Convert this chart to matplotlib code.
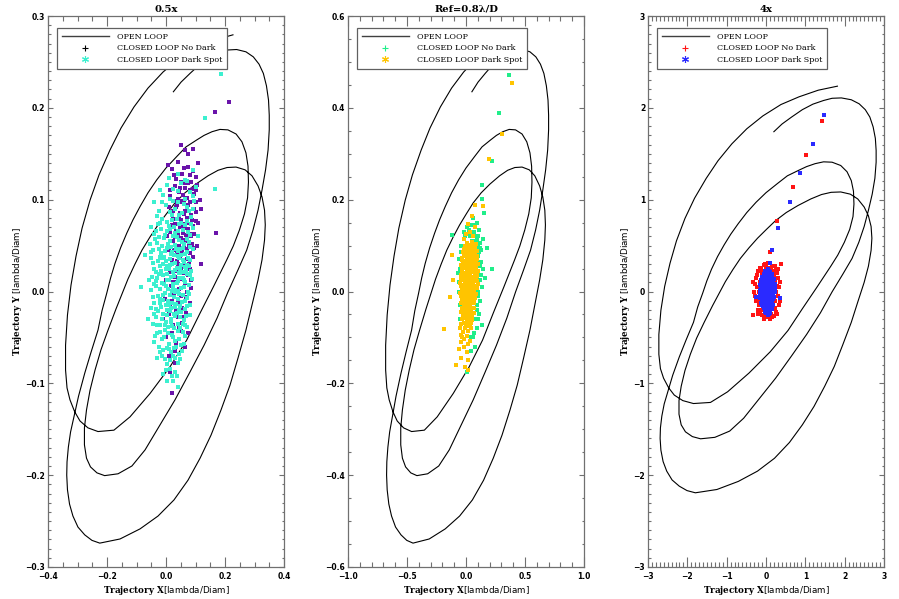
import numpy as np
import matplotlib
matplotlib.use('Agg')
import matplotlib.pyplot as plt
from matplotlib.lines import Line2D
from matplotlib.ticker import MultipleLocator, FuncFormatter

plt.rcParams['mathtext.fontset'] = 'custom'
plt.rcParams['mathtext.bf'] = 'DejaVu Serif:bold'
plt.rcParams['mathtext.rm'] = 'DejaVu Sans'

# open loop trajectory in Ref units [lambda/D], scaled per panel
ol_x = [0.454, 0.332, 0.210, 0.095, -0.020, -0.122, -0.217, -0.305, -0.380, -0.454, -0.515, -0.569,
        -0.610, -0.644, -0.668, -0.681, -0.681, -0.671, -0.651, -0.619, -0.583, -0.529, -0.461,
        -0.353, -0.244, -0.108, 0.027, 0.140, 0.231, 0.321, 0.412, 0.456, 0.498, 0.532, 0.553,
        0.559, 0.556, 0.542, 0.515, 0.475, 0.420, 0.366, 0.312, 0.258, 0.208,
        0.136, 0.073, 0.000, -0.063, -0.122, -0.176, -0.224, -0.266, -0.308, -0.346, -0.376,
        -0.402, -0.434, -0.461, -0.508, -0.551, -0.593, -0.624, -0.647, -0.662, -0.671, -0.673,
        -0.668, -0.654, -0.631, -0.597, -0.551, -0.502, -0.449,
        -0.312, -0.176, -0.054, 0.054, 0.149, 0.231, 0.305, 0.373, 0.434, 0.488, 0.542, 0.583,
        0.624, 0.651, 0.668, 0.673, 0.668, 0.651, 0.624, 0.583, 0.536, 0.475, 0.414, 0.353, 0.285,
        0.203, 0.129, 0.061, 0.005, -0.054, -0.108, -0.163, -0.210, -0.258, -0.298, -0.339,
        -0.393, -0.441, -0.481, -0.515, -0.539, -0.553, -0.553, -0.539, -0.512, -0.468, -0.416,
        -0.325, -0.231, -0.142, -0.041, 0.061, 0.163, 0.258, 0.346, 0.420, 0.488, 0.547, 0.590,
        0.624, 0.651, 0.675, 0.692, 0.700, 0.700, 0.695, 0.681, 0.660, 0.631, 0.592, 0.542,
        0.479, 0.420, 0.366, 0.298, 0.231, 0.163, 0.102, 0.050]
ol_y = [0.559, 0.548, 0.530, 0.509, 0.478, 0.443, 0.402, 0.356, 0.308, 0.254, 0.199, 0.138,
        0.077, 0.014, -0.051, -0.117, -0.171, -0.210, -0.236, -0.262, -0.282, -0.297, -0.305,
        -0.302, -0.273, -0.222, -0.164, -0.106, -0.047, 0.010, 0.069, 0.099, 0.134, 0.169, 0.204,
        0.238, 0.273, 0.302, 0.326, 0.343, 0.352, 0.353, 0.348, 0.340, 0.330,
        0.315, 0.294, 0.269, 0.243, 0.215, 0.185, 0.156, 0.127, 0.095, 0.061, 0.029,
        -0.004, -0.042, -0.084, -0.132, -0.178, -0.228, -0.273, -0.306, -0.339, -0.371, -0.400,
        -0.432, -0.463, -0.489, -0.513, -0.530, -0.542, -0.548,
        -0.539, -0.517, -0.489, -0.454, -0.411, -0.363, -0.313, -0.258, -0.204, -0.145, -0.084,
        -0.029, 0.025, 0.069, 0.112, 0.145, 0.177, 0.206, 0.230, 0.252, 0.265, 0.271, 0.270, 0.264,
        0.252, 0.234, 0.215, 0.193, 0.170, 0.145, 0.119, 0.090, 0.060, 0.027, -0.005, -0.038,
        -0.084, -0.127, -0.171, -0.215, -0.258, -0.297, -0.334, -0.363, -0.382, -0.395, -0.401,
        -0.397, -0.380, -0.345, -0.291, -0.236, -0.175, -0.117, -0.058, -0.001, 0.047, 0.090, 0.134,
        0.177, 0.221, 0.265, 0.308, 0.352, 0.384, 0.417, 0.448, 0.475, 0.495, 0.511, 0.522,
        0.527, 0.526, 0.520, 0.510, 0.495, 0.475, 0.456, 0.435]
scales = [0.5, 1.0, 4.0]

# closed loop residuals, panel 1 (0.5x)
p1_nodark = [(0.064, 0.154), (0.04, 0.141), (0.075, 0.136), (0.055, 0.128), (0.09, 0.131), (0.02, 0.133),
             (0.1, 0.125), (0.035, 0.122), (0.007, 0.138),
             (0.03, 0.115), (0.045, 0.108), (0.06, 0.118), (0.07, 0.102), (0.08, 0.111), (0.095, 0.106),
             (0.05, 0.119), (0.015, 0.104), (0.065, 0.113), (0.105, 0.116), (0.04, 0.101), (0.085, 0.119),
             (0.02, 0.085), (0.035, 0.092), (0.045, 0.081), (0.055, 0.097), (0.065, 0.088), (0.075, 0.094),
             (0.085, 0.083), (0.095, 0.09), (0.05, 0.099), (0.03, 0.099), (0.07, 0.08), (0.1, 0.098),
             (0.06, 0.084), (0.01, 0.092),
             (0.015, 0.065), (0.03, 0.074), (0.042, 0.062), (0.052, 0.078), (0.062, 0.069), (0.072, 0.075),
             (0.082, 0.063), (0.092, 0.071), (0.048, 0.07), (0.035, 0.066), (0.068, 0.061), (0.1, 0.077),
             (0.025, 0.079), (0.058, 0.064),
             (0.01, 0.045), (0.025, 0.055), (0.038, 0.043), (0.05, 0.058), (0.06, 0.049), (0.07, 0.055),
             (0.08, 0.042), (0.088, 0.052), (0.045, 0.05), (0.032, 0.059), (0.065, 0.041), (0.095, 0.047),
             (0.005, 0.025), (0.02, 0.034), (0.035, 0.022), (0.048, 0.037), (0.058, 0.028), (0.07, 0.035),
             (0.08, 0.024), (0.042, 0.03), (0.09, 0.038), (0.015, 0.021),
             (0.0, 0.012), (0.018, 0.006), (0.03, 0.016), (0.045, 0.003), (0.055, 0.014), (0.065, 0.009),
             (0.075, 0.018), (0.038, 0.01), (0.085, 0.004),
             (-0.005, -0.008), (0.012, -0.015), (0.028, -0.004), (0.042, -0.012), (0.055, -0.018),
             (0.068, -0.006), (0.02, -0.01),
             (-0.01, -0.03), (0.01, -0.025), (0.025, -0.036), (0.04, -0.028), (0.055, -0.034), (0.068, -0.023),
             (0.0, -0.05), (0.02, -0.045), (0.035, -0.056), (0.05, -0.043),
             (0.01, -0.07), (0.03, -0.078), (0.015, -0.088), (0.02, -0.11),
             (0.212, 0.206), (0.166, 0.195), (0.169, 0.064), (0.12, 0.09),
             (0.028, 0.127), (0.06, 0.135), (0.083, 0.127), (0.047, 0.113), (0.073, 0.118), (0.09, 0.112),
             (0.058, 0.105), (0.038, 0.094), (0.062, 0.096), (0.08, 0.098), (0.1, 0.087), (0.025, 0.088),
             (0.048, 0.086), (0.07, 0.089), (0.088, 0.078), (0.056, 0.074), (0.04, 0.079), (0.075, 0.068),
             (0.095, 0.063), (0.02, 0.072), (0.063, 0.056), (0.078, 0.05), (0.043, 0.056), (0.055, 0.043),
             (0.085, 0.06), (0.028, 0.045), (0.072, 0.046), (0.062, 0.033), (0.05, 0.025), (0.077, 0.03),
             (0.036, 0.033), (0.085, 0.013), (0.06, 0.02), (0.025, 0.01), (0.07, 0.0), (0.05, -0.005),
             (0.08, -0.012), (0.035, -0.02), (0.06, -0.028), (0.045, -0.04), (0.075, -0.045), (0.065, -0.06),
             (0.03, -0.065), (0.1, 0.11), (0.115, 0.1), (0.11, 0.075), (0.105, 0.05), (0.12, 0.03),
             (0.015, 0.11), (0.005, 0.06), (0.11, 0.14), (0.075, 0.15), (0.05, 0.16), (0.09, 0.155)]
p1_dark = [(0.04, 0.128), (0.065, 0.121), (0.01, 0.124), (0.09, 0.132),
           (-0.01, 0.105), (0.025, 0.112), (0.05, 0.118), (0.08, 0.108), (0.005, 0.116), (0.1, 0.114), (0.065, 0.101),
           (-0.025, 0.088), (0.0, 0.094), (0.02, 0.083), (0.04, 0.097), (0.055, 0.086), (0.07, 0.092),
           (0.085, 0.081), (-0.04, 0.097), (0.03, 0.09), (0.095, 0.099),
           (-0.035, 0.066), (-0.02, 0.075), (-0.005, 0.062), (0.01, 0.071), (0.02, 0.078), (0.032, 0.064),
           (0.045, 0.073), (0.058, 0.067), (0.07, 0.077), (0.08, 0.061), (-0.05, 0.07), (0.038, 0.079),
           (0.092, 0.069), (-0.012, 0.079),
           (-0.045, 0.045), (-0.03, 0.053), (-0.018, 0.042), (-0.008, 0.058), (0.002, 0.047), (0.012, 0.055),
           (0.022, 0.043), (0.03, 0.051), (0.038, 0.059), (0.046, 0.046), (0.054, 0.054), (0.064, 0.041),
           (0.072, 0.057), (0.082, 0.049), (-0.025, 0.059), (0.025, 0.06), (0.05, 0.04), (-0.055, 0.052),
           (-0.04, 0.025), (-0.028, 0.033), (-0.016, 0.022), (-0.006, 0.038), (0.005, 0.028), (0.015, 0.035),
           (0.024, 0.021), (0.032, 0.031), (0.04, 0.039), (0.048, 0.024), (0.056, 0.034), (0.065, 0.027),
           (0.075, 0.037), (0.085, 0.022), (-0.05, 0.036), (0.01, 0.024), (0.036, 0.026), (0.06, 0.021),
           (-0.01, 0.03), (0.028, 0.04),
           (-0.042, 0.008), (-0.03, 0.015), (-0.02, 0.003), (-0.01, 0.018), (0.0, 0.006), (0.01, 0.013),
           (0.02, 0.001), (0.028, 0.017), (0.036, 0.009), (0.044, 0.015), (0.052, 0.004), (0.06, 0.012),
           (0.07, 0.019), (0.078, 0.007), (-0.058, 0.013), (-0.025, 0.019), (0.032, 0.002), (0.048, 0.02),
           (0.088, 0.014), (0.005, 0.019),
           (-0.04, -0.012), (-0.027, -0.005), (-0.016, -0.017), (-0.005, -0.002), (0.006, -0.01), (0.016, -0.018),
           (0.026, -0.006), (0.035, -0.014), (0.044, -0.003), (0.053, -0.011), (0.063, -0.019), (0.072, -0.007),
           (-0.05, -0.018), (0.0, -0.015), (0.03, -0.001), (0.058, -0.004), (0.082, -0.015), (-0.01, -0.009),
           (-0.035, -0.028), (-0.022, -0.036), (-0.01, -0.024), (0.0, -0.033), (0.012, -0.021), (0.022, -0.038),
           (0.032, -0.027), (0.042, -0.035), (0.051, -0.022), (0.062, -0.031), (0.072, -0.039), (-0.045, -0.035),
           (0.008, -0.039), (0.037, -0.023), (0.08, -0.026),
           (-0.03, -0.045), (-0.015, -0.052), (-0.002, -0.042), (0.01, -0.057), (0.02, -0.047), (0.03, -0.054),
           (0.04, -0.043), (0.05, -0.058), (0.065, -0.049), (-0.04, -0.055), (0.035, -0.06),
           (-0.02, -0.066), (-0.005, -0.074), (0.01, -0.063), (0.025, -0.07), (0.04, -0.078), (0.055, -0.065),
           (0.005, -0.079),
           (0.0, -0.085), (0.02, -0.092), (0.005, -0.097), (0.03, -0.088),
           (0.185, 0.237), (0.131, 0.189), (-0.084, 0.005), (0.165, 0.112), (0.04, -0.104), (-0.07, 0.04),
           (0.11, 0.06), (-0.06, -0.03),
           (-0.028, 0.074), (0.003, 0.076), (0.052, 0.075), (0.064, 0.072), (0.015, 0.068), (0.085, 0.074),
           (-0.042, 0.063), (-0.018, 0.068), (0.026, 0.07), (0.04, 0.066), (0.075, 0.065), (0.005, 0.066),
           (-0.038, 0.057), (-0.015, 0.05), (0.006, 0.052), (0.018, 0.049), (0.044, 0.056), (0.06, 0.052),
           (0.078, 0.054), (0.034, 0.046),
           (-0.05, 0.043), (-0.025, 0.046), (-0.003, 0.044), (0.016, 0.041), (0.04, 0.044), (0.057, 0.047),
           (0.07, 0.043), (0.09, 0.046),
           (-0.045, 0.031), (-0.022, 0.038), (-0.012, 0.036), (0.0, 0.033), (0.02, 0.03), (0.045, 0.036),
           (0.062, 0.032), (0.07, 0.029), (0.08, 0.034),
           (-0.035, 0.021), (-0.02, 0.028), (0.0, 0.024), (0.012, 0.029), (0.03, 0.023), (0.052, 0.029),
           (0.068, 0.023), (0.079, 0.028), (0.044, 0.02),
           (-0.048, 0.016), (-0.035, 0.011), (-0.015, 0.009), (0.003, 0.012), (0.016, 0.016), (0.024, 0.008),
           (0.04, 0.011), (0.056, 0.015), (0.066, 0.01), (0.082, 0.018),
           (-0.05, 0.002), (-0.033, 0.006), (-0.007, 0.008), (0.007, 0.003), (0.024, 0.005), (0.042, 0.001),
           (0.062, 0.005), (0.074, 0.0),
           (-0.045, -0.006), (-0.02, -0.008), (-0.01, -0.004), (0.012, -0.004), (0.021, -0.012), (0.04, -0.008),
           (0.048, -0.016), (0.066, -0.01), (0.078, -0.003),
           (-0.034, -0.019), (-0.022, -0.013), (0.002, -0.02), (0.011, -0.015), (0.03, -0.017), (0.045, -0.02),
           (0.07, -0.016),
           (-0.042, -0.024), (-0.028, -0.021), (-0.015, -0.03), (0.005, -0.026), (0.018, -0.03), (0.027, -0.024),
           (0.046, -0.028), (0.057, -0.035), (0.068, -0.027),
           (-0.03, -0.037), (-0.005, -0.036), (0.016, -0.033), (0.028, -0.04), (0.048, -0.04), (0.066, -0.036),
           (-0.038, -0.048), (-0.022, -0.044), (-0.008, -0.05), (0.006, -0.045), (0.025, -0.05), (0.045, -0.052),
           (0.058, -0.044),
           (-0.025, -0.06), (-0.01, -0.064), (0.003, -0.062), (0.018, -0.066), (0.028, -0.061), (0.045, -0.068),
           (0.06, -0.057),
           (-0.03, -0.072), (-0.012, -0.07), (0.015, -0.075), (0.03, -0.072), (0.048, -0.074),
           (-0.01, -0.09), (0.012, -0.084), (0.025, -0.097), (0.038, -0.092),
           (-0.015, 0.098), (0.012, 0.087), (0.045, 0.083), (0.06, 0.095), (0.078, 0.088), (-0.032, 0.082),
           (0.025, 0.099), (0.09, 0.09),
           (0.015, 0.101), (0.04, 0.109), (0.07, 0.12), (0.09, 0.104), (-0.02, 0.111)]

# panel 2 (Ref)
p2_nodark = [(0.364, 0.471), (0.282, 0.388), (0.223, 0.284), (0.133, 0.233), (0.136, 0.201),
             (0.06, 0.16), (0.09, 0.15), (0.04, 0.145), (0.11, 0.135), (0.07, 0.13), (0.1, 0.12), (0.12, 0.105),
             (0.085, 0.11), (0.13, 0.09), (0.11, 0.085), (0.095, 0.07), (0.125, 0.065), (0.14, 0.05),
             (0.105, 0.045), (0.115, 0.025), (0.135, 0.01), (0.1, 0.0), (0.12, -0.02), (0.09, -0.03),
             (0.11, -0.05), (0.075, -0.06), (0.09, -0.08), (0.06, -0.1), (0.08, -0.12), (0.04, -0.13),
             (0.006, -0.175), (0.06, 0.09), (0.075, 0.06), (0.08, 0.03), (0.07, 0.0), (0.065, -0.02),
             (0.05, 0.11), (0.03, 0.12), (0.01, 0.14), (-0.02, 0.13), (-0.04, 0.1), (-0.06, 0.07),
             (-0.07, 0.04), (-0.06, 0.0), (0.045, 0.075), (0.09, 0.095), (0.1, 0.065), (0.085, 0.045),
             (0.223, 0.048), (0.175, 0.094), (-0.121, 0.122), (0.133, -0.074), (0.15, 0.17), (0.16, 0.03),
             (0.1, 0.1), (0.095, 0.115), (0.115, 0.095), (0.105, 0.078), (0.12, 0.055), (0.11, 0.035),
             (0.1, 0.02), (0.105, -0.01), (0.095, -0.04), (0.1, -0.06), (0.08, 0.12), (0.055, 0.13),
             (0.025, 0.135), (-0.005, 0.12), (-0.045, 0.085), (-0.055, 0.05), (-0.06, 0.02), (-0.055, -0.03),
             (-0.05, -0.06), (0.07, -0.09), (0.045, -0.1), (0.14, 0.115), (0.13, 0.035), (0.075, 0.145)]
p2_dark = [(0.0, 0.095), (0.02, 0.102), (0.04, 0.091), (0.055, 0.108), (0.07, 0.098), (0.01, 0.106),
           (-0.015, 0.092), (0.085, 0.104),
           (-0.03, 0.074), (-0.01, 0.082), (0.005, 0.071), (0.02, 0.088), (0.035, 0.077), (0.05, 0.085),
           (0.065, 0.072), (0.08, 0.081), (0.095, 0.089), (0.012, 0.079), (0.042, 0.07),
           (-0.04, 0.058), (-0.025, 0.066), (-0.01, 0.052), (0.0, 0.062), (0.015, 0.056), (0.028, 0.068),
           (0.04, 0.053), (0.055, 0.063), (0.068, 0.055), (0.082, 0.067), (0.1, 0.059), (0.022, 0.05),
           (-0.045, 0.036), (-0.03, 0.045), (-0.015, 0.032), (-0.002, 0.041), (0.01, 0.048), (0.022, 0.034),
           (0.035, 0.043), (0.048, 0.031), (0.06, 0.046), (0.075, 0.038), (0.09, 0.033), (0.105, 0.044),
           (-0.05, 0.018), (-0.035, 0.025), (-0.02, 0.013), (-0.008, 0.028), (0.005, 0.016), (0.018, 0.022),
           (0.03, 0.011), (0.042, 0.027), (0.055, 0.019), (0.07, 0.012), (0.085, 0.024), (0.1, 0.017),
           (-0.048, -0.004), (-0.033, 0.006), (-0.02, -0.008), (-0.006, 0.003), (0.007, -0.006), (0.02, 0.008),
           (0.032, -0.002), (0.045, 0.005), (0.058, -0.009), (0.072, 0.002), (0.088, -0.005), (0.012, 0.009),
           (-0.045, -0.024), (-0.03, -0.015), (-0.016, -0.027), (-0.003, -0.012), (0.01, -0.022), (0.023, -0.013),
           (0.036, -0.028), (0.05, -0.018), (0.064, -0.025), (0.08, -0.014),
           (-0.04, -0.044), (-0.025, -0.035), (-0.01, -0.047), (0.003, -0.038), (0.017, -0.049), (0.03, -0.033),
           (0.044, -0.042), (0.058, -0.036), (0.072, -0.047),
           (-0.035, -0.06), (-0.02, -0.068), (-0.005, -0.055), (0.01, -0.064), (0.025, -0.057), (0.04, -0.069),
           (0.055, -0.061),
           (-0.05, -0.08), (-0.025, -0.088), (0.0, -0.076), (0.02, -0.085), (0.04, -0.079),
           (-0.04, -0.095), (-0.015, -0.104), (0.01, -0.098), (0.03, -0.108),
           (-0.06, -0.125), (-0.02, -0.12), (0.005, -0.132), (-0.04, -0.145), (0.015, -0.15), (-0.01, -0.165),
           (0.02, -0.17), (-0.085, -0.16),
           (0.0, 0.125), (0.03, 0.13), (0.06, 0.12), (0.02, 0.148), (0.05, 0.165), (0.08, 0.14), (0.075, 0.188),
           (-0.02, 0.115),
           (-0.186, -0.082), (-0.121, 0.08), (-0.136, -0.011), (-0.108, 0.025),
           (0.387, 0.453), (0.302, 0.344), (0.195, 0.288), (0.141, 0.187),
           (-0.005, 0.1), (0.03, 0.097), (0.048, 0.1), (0.062, 0.093), (0.078, 0.097),
           (-0.022, 0.085), (0.008, 0.09), (0.028, 0.082), (0.045, 0.088), (0.058, 0.08), (0.072, 0.086),
           (0.09, 0.078),
           (-0.035, 0.068), (-0.018, 0.077), (0.0, 0.078), (0.018, 0.073), (0.032, 0.066), (0.058, 0.076),
           (0.075, 0.064), (0.09, 0.071),
           (-0.032, 0.052), (-0.005, 0.058), (0.008, 0.064), (0.03, 0.059), (0.048, 0.063), (0.062, 0.05),
           (0.088, 0.055),
           (-0.038, 0.047), (-0.02, 0.04), (0.005, 0.037), (0.016, 0.044), (0.03, 0.038), (0.042, 0.048),
           (0.068, 0.043), (0.082, 0.048), (0.097, 0.039),
           (-0.042, 0.028), (-0.025, 0.033), (-0.01, 0.021), (0.012, 0.025), (0.026, 0.03), (0.036, 0.021),
           (0.05, 0.025), (0.062, 0.032), (0.078, 0.029), (0.092, 0.023),
           (-0.04, 0.012), (-0.026, 0.015), (-0.012, 0.007), (0.0, 0.018), (0.014, 0.013), (0.026, 0.016),
           (0.04, 0.013), (0.062, 0.018), (0.08, 0.01), (0.095, 0.008),
           (-0.04, -0.01), (-0.025, -0.001), (-0.012, 0.0), (0.0, -0.009), (0.014, -0.002), (0.026, -0.01),
           (0.038, 0.0), (0.052, -0.003), (0.065, -0.015), (0.08, -0.006),
           (-0.038, -0.017), (-0.022, -0.022), (-0.008, -0.02), (0.004, -0.016), (0.016, -0.029), (0.03, -0.02),
           (0.044, -0.025), (0.058, -0.015), (0.072, -0.022),
           (-0.032, -0.035), (-0.017, -0.04), (-0.003, -0.031), (0.01, -0.034), (0.024, -0.044), (0.038, -0.036),
           (0.05, -0.048), (0.065, -0.035),
           (-0.028, -0.052), (-0.013, -0.058), (0.002, -0.048), (0.018, -0.062), (0.032, -0.05), (0.048, -0.056),
           (-0.04, -0.07), (-0.012, -0.08), (0.006, -0.07), (0.03, -0.075), (-0.03, -0.1), (0.02, -0.115),
           (-0.045, -0.11)]

# panel 3 (4x)
p3_nodark = [(-0.25, 0.15), (-0.2, 0.22), (-0.15, 0.26), (-0.05, 0.29), (0.05, 0.31), (0.15, 0.28), (0.25, 0.24),
             (0.3, 0.15), (0.33, 0.05), (0.3, -0.05), (0.32, -0.15), (0.25, -0.22), (0.2, -0.27), (0.1, -0.3),
             (0.0, -0.28), (-0.1, -0.26), (-0.2, -0.2), (-0.25, -0.1), (-0.3, 0.0), (-0.27, 0.08),
             (-0.322, -0.256), (0.102, -0.256), (-0.025, 0.3),
             (-0.1, 0.2), (0.0, 0.22), (0.1, 0.2), (0.2, 0.18), (-0.15, 0.1), (0.22, 0.1), (-0.18, 0.0),
             (0.25, 0.0), (-0.15, -0.1), (0.24, -0.1), (-0.1, -0.2), (0.0, -0.22), (0.12, -0.24), (0.05, 0.0),
             (-0.05, 0.05), (0.1, -0.05), (0.15, 0.12), (-0.08, -0.12), (0.18, -0.18), (-0.12, 0.25), (0.28, 0.2),
             (-0.22, 0.18), (0.3, 0.25), (-0.28, -0.05), (0.35, 0.1), (-0.2, -0.25), (0.28, -0.25), (0.05, 0.26),
             (-0.05, -0.3), (0.15, -0.28), (0.22, 0.28), (-0.32, 0.1), (0.36, -0.1), (-0.23, 0.05), (0.27, 0.06),
             (0.0, 0.27), (-0.15, -0.22), (0.2, 0.22), (0.22, -0.18), (-0.18, -0.15), (0.12, 0.25),
             (1.424, 1.86), (1.017, 1.486), (0.679, 1.141), (0.272, 0.771), (0.102, 0.433), (0.382, 0.299)]
p3_dark = [(0.0, 0.21), (0.04, 0.235), (0.08, 0.22), (0.11, 0.205), (-0.03, 0.225), (0.06, 0.245),
           (-0.08, 0.16), (-0.04, 0.185), (0.0, 0.17), (0.03, 0.195), (0.06, 0.155), (0.09, 0.18), (0.12, 0.165),
           (0.16, 0.19), (0.02, 0.15), (0.14, 0.155),
           (-0.12, 0.12), (-0.08, 0.14), (-0.05, 0.105), (-0.01, 0.13), (0.02, 0.115), (0.05, 0.145), (0.08, 0.11),
           (0.11, 0.135), (0.14, 0.12), (0.18, 0.105), (0.2, 0.14), (0.0, 0.1),
           (-0.14, 0.07), (-0.1, 0.09), (-0.06, 0.055), (-0.03, 0.08), (0.0, 0.065), (0.03, 0.095), (0.06, 0.06),
           (0.09, 0.085), (0.12, 0.07), (0.15, 0.095), (0.19, 0.06), (0.22, 0.08),
           (-0.15, 0.02), (-0.11, 0.04), (-0.07, 0.01), (-0.04, 0.035), (-0.01, 0.005), (0.02, 0.045), (0.05, 0.015),
           (0.08, 0.04), (0.11, 0.005), (0.14, 0.03), (0.18, 0.015), (0.23, 0.04),
           (-0.16, -0.03), (-0.12, -0.01), (-0.08, -0.045), (-0.05, -0.02), (-0.02, -0.04), (0.01, -0.005),
           (0.04, -0.035), (0.07, -0.015), (0.1, -0.045), (0.13, -0.02), (0.17, -0.035), (0.22, -0.01),
           (-0.14, -0.07), (-0.1, -0.095), (-0.06, -0.06), (-0.03, -0.085), (0.0, -0.055), (0.03, -0.09),
           (0.06, -0.07), (0.09, -0.1), (0.12, -0.06), (0.16, -0.085), (0.2, -0.065),
           (-0.12, -0.12), (-0.08, -0.14), (-0.04, -0.105), (-0.01, -0.13), (0.02, -0.115), (0.05, -0.145),
           (0.08, -0.11), (0.11, -0.135), (0.15, -0.12), (0.18, -0.145),
           (-0.08, -0.16), (-0.04, -0.185), (0.0, -0.17), (0.03, -0.195), (0.06, -0.155), (0.09, -0.18),
           (0.12, -0.165), (0.15, -0.19),
           (-0.03, -0.21), (0.01, -0.235), (0.04, -0.215), (0.08, -0.24), (0.11, -0.22), (0.06, -0.255),
           (-0.254, -0.057), (0.356, -0.074), (0.102, 0.307),
           (1.483, 1.922), (1.188, 1.606), (0.865, 1.294), (0.61, 0.975), (0.298, 0.695), (0.16, 0.452),
           (-0.01, 0.225), (0.025, 0.22), (0.07, 0.228), (0.095, 0.215),
           (-0.06, 0.195), (-0.02, 0.2), (0.015, 0.185), (0.05, 0.19), (0.1, 0.195), (0.13, 0.18),
           (-0.1, 0.16), (-0.06, 0.17), (-0.02, 0.155), (0.04, 0.165), (0.075, 0.17), (0.105, 0.15), (0.16, 0.165),
           (-0.1, 0.13), (-0.07, 0.12), (-0.03, 0.135), (0.035, 0.13), (0.065, 0.125), (0.095, 0.12),
           (0.125, 0.14), (0.165, 0.125),
           (-0.12, 0.09), (-0.08, 0.08), (-0.045, 0.095), (-0.015, 0.085), (0.015, 0.08), (0.045, 0.09),
           (0.075, 0.075), (0.105, 0.1), (0.135, 0.085), (0.17, 0.075),
           (-0.13, 0.05), (-0.09, 0.06), (-0.055, 0.045), (-0.02, 0.055), (0.01, 0.04), (0.035, 0.06),
           (0.065, 0.05), (0.095, 0.055), (0.125, 0.045), (0.16, 0.05), (0.2, 0.04),
           (-0.13, 0.0), (-0.095, 0.015), (-0.05, 0.02), (-0.025, 0.015), (0.035, 0.01), (0.065, 0.025),
           (0.095, 0.02), (0.125, 0.01), (0.155, 0.0), (0.2, 0.015),
           (-0.14, -0.01), (-0.1, -0.03), (-0.065, -0.015), (-0.035, -0.03), (0.005, -0.025), (0.025, -0.015),
           (0.055, -0.03), (0.085, -0.02), (0.115, -0.025), (0.15, -0.01), (0.19, -0.025),
           (-0.12, -0.05), (-0.08, -0.075), (-0.045, -0.065), (-0.015, -0.05), (0.015, -0.07), (0.045, -0.055),
           (0.075, -0.08), (0.105, -0.07), (0.14, -0.055), (0.18, -0.08),
           (-0.1, -0.105), (-0.06, -0.1), (-0.025, -0.115), (0.005, -0.095), (0.035, -0.11), (0.065, -0.095),
           (0.095, -0.115), (0.13, -0.1), (0.165, -0.105),
           (-0.1, -0.15), (-0.06, -0.13), (-0.025, -0.145), (0.01, -0.14), (0.035, -0.13), (0.07, -0.15),
           (0.1, -0.145), (0.135, -0.135),
           (-0.06, -0.18), (-0.02, -0.165), (0.015, -0.18), (0.045, -0.185), (0.075, -0.165), (0.105, -0.195),
           (0.13, -0.175),
           (-0.02, -0.225), (0.025, -0.22), (0.055, -0.23), (0.095, -0.235)]

titles = ['0.5x', 'Ref=0.8\u03bb/D', '4x']
nodark_pts = [p1_nodark, p2_nodark, p3_nodark]
dark_pts = [p1_dark, p2_dark, p3_dark]
nodark_col = ['#6a14aa', '#20ee8a', '#ff1414']
dark_col = ['#3cf0d0', '#ffc400', '#2a2aff']
nodark_leg = ['black', '#20ee8a', '#ff1414']
xlims = [0.4, 1.0, 3.0]
ylims = [0.3, 0.6, 3.0]
xmaj = [0.2, 0.5, 1.0]
xmin = [0.05, 0.1, 0.1]
ymaj = [0.1, 0.2, 1.0]
ymin = [0.01, 0.05, 0.1]
decs = [1, 1, 0]


def tickfmt(dec):
    def f(v, pos):
        if abs(v) < 1e-9:
            v = 0.0
        return ('%.*f' % (dec, v)).replace('-', '\u2212')
    return FuncFormatter(f)


fig = plt.figure(figsize=(8.99, 5.99), dpi=100)
lefts = [48, 348, 648]
for i in range(3):
    ax = fig.add_axes([lefts[i] / 899, 32 / 599, 236 / 899, 551 / 599])
    s = scales[i]
    ax.plot(np.array(ol_x) * s, np.array(ol_y) * s, color='black', lw=0.8, solid_joinstyle='round')
    nd = np.array(nodark_pts[i])
    dk = np.array(dark_pts[i])
    ax.plot(nd[:, 0], nd[:, 1], 's', ms=2.5, mew=0, color=nodark_col[i])
    ax.plot(dk[:, 0], dk[:, 1], 's', ms=2.5, mew=0, color=dark_col[i])

    ax.set_xlim(-xlims[i], xlims[i])
    ax.set_ylim(-ylims[i], ylims[i])
    ax.xaxis.set_major_locator(MultipleLocator(xmaj[i]))
    ax.xaxis.set_minor_locator(MultipleLocator(xmin[i]))
    ax.yaxis.set_major_locator(MultipleLocator(ymaj[i]))
    ax.yaxis.set_minor_locator(MultipleLocator(ymin[i]))
    ax.xaxis.set_major_formatter(tickfmt(decs[i]))
    ax.yaxis.set_major_formatter(tickfmt(decs[i]))
    ax.tick_params(which='both', direction='in', top=True, right=True, color='#707070', width=0.8)
    ax.tick_params(axis='x', which='major', length=7.2, pad=3.5, labelsize=5.5)
    ax.tick_params(axis='x', which='minor', length=3.6)
    ax.tick_params(axis='y', which='major', length=3.6, pad=2, labelsize=5.5)
    ax.tick_params(axis='y', which='minor', length=1.8)
    for lab in ax.get_xticklabels() + ax.get_yticklabels():
        lab.set_fontweight('bold')
    for sp in ax.spines.values():
        sp.set_color('#707070')
        sp.set_linewidth(0.9)

    ax.set_title(titles[i], fontsize=7.2, fontweight='bold', family='DejaVu Serif', pad=3)
    ax.set_xlabel(r'$\mathbf{Trajectory\ X}$[lambda/Diam]', fontsize=6.3, labelpad=2)
    ax.set_ylabel(r'$\mathbf{Trajectory\ Y}$ [lambda/Diam]', fontsize=6.3, labelpad=1)

    handles = [Line2D([], [], color='#404040', lw=1.0),
               Line2D([], [], ls='none', marker='+', ms=5, mew=0.8, color=nodark_leg[i]),
               Line2D([], [], ls='none', marker=(6, 2, 0), ms=5, mew=0.8, color=dark_col[i])]
    labels = ['OPEN LOOP', 'CLOSED LOOP No Dark', 'CLOSED LOOP Dark Spot']
    leg = ax.legend(handles, labels, loc='upper left', bbox_to_anchor=(9 / 236, 1 - 12 / 551),
                    borderaxespad=0, fancybox=False, edgecolor='#606060', framealpha=1,
                    prop={'family': 'DejaVu Serif', 'size': 5.8}, handlelength=5.8,
                    handletextpad=1.0, borderpad=0.6, labelspacing=0.45)
    leg.get_frame().set_linewidth(0.9)

fig.savefig('out.png', dpi=100)
